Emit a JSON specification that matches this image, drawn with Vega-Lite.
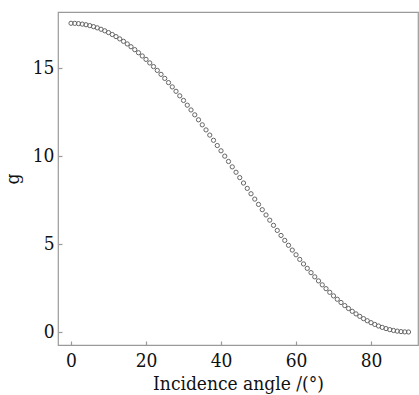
{
  "$schema": "https://vega.github.io/schema/vega-lite/v6.json",
  "width": 360,
  "height": 333,
  "autosize": {"type": "none"},
  "padding": {"left": 58, "top": 12, "right": 1, "bottom": 50},
  "background": "white",
  "config": {
    "view": {"stroke": "#9a9a9a", "strokeWidth": 1.2},
    "axis": {"labelFont": "DejaVu Serif Condensed", "titleFont": "DejaVu Serif Condensed", "labelFontSize": 19, "titleFontSize": 19, "labelColor": "#111", "titleColor": "#111", "titleFontWeight": "normal", "grid": false, "domain": false, "tickColor": "#9a9a9a", "tickSize": -4, "tickWidth": 1.2}
  },
  "data": {"values": [
    {"angle": 0, "g": 17.54}, {"angle": 1, "g": 17.535}, {"angle": 2, "g": 17.519}, {"angle": 3, "g": 17.492}, {"angle": 4, "g": 17.455},
    {"angle": 5, "g": 17.407}, {"angle": 6, "g": 17.348}, {"angle": 7, "g": 17.28}, {"angle": 8, "g": 17.2}, {"angle": 9, "g": 17.111},
    {"angle": 10, "g": 17.011}, {"angle": 11, "g": 16.901}, {"angle": 12, "g": 16.782}, {"angle": 13, "g": 16.652}, {"angle": 14, "g": 16.513},
    {"angle": 15, "g": 16.365}, {"angle": 16, "g": 16.207}, {"angle": 17, "g": 16.041}, {"angle": 18, "g": 15.865}, {"angle": 19, "g": 15.681},
    {"angle": 20, "g": 15.488}, {"angle": 21, "g": 15.287}, {"angle": 22, "g": 15.079}, {"angle": 23, "g": 14.862}, {"angle": 24, "g": 14.638},
    {"angle": 25, "g": 14.407}, {"angle": 26, "g": 14.169}, {"angle": 27, "g": 13.925}, {"angle": 28, "g": 13.674}, {"angle": 29, "g": 13.417},
    {"angle": 30, "g": 13.155}, {"angle": 31, "g": 12.887}, {"angle": 32, "g": 12.615}, {"angle": 33, "g": 12.337}, {"angle": 34, "g": 12.055},
    {"angle": 35, "g": 11.77}, {"angle": 36, "g": 11.48}, {"angle": 37, "g": 11.187}, {"angle": 38, "g": 10.892}, {"angle": 39, "g": 10.593},
    {"angle": 40, "g": 10.293}, {"angle": 41, "g": 9.99}, {"angle": 42, "g": 9.687}, {"angle": 43, "g": 9.382}, {"angle": 44, "g": 9.076},
    {"angle": 45, "g": 8.77}, {"angle": 46, "g": 8.464}, {"angle": 47, "g": 8.158}, {"angle": 48, "g": 7.853}, {"angle": 49, "g": 7.55},
    {"angle": 50, "g": 7.247}, {"angle": 51, "g": 6.947}, {"angle": 52, "g": 6.648}, {"angle": 53, "g": 6.353}, {"angle": 54, "g": 6.06},
    {"angle": 55, "g": 5.77}, {"angle": 56, "g": 5.485}, {"angle": 57, "g": 5.203}, {"angle": 58, "g": 4.925}, {"angle": 59, "g": 4.653},
    {"angle": 60, "g": 4.385}, {"angle": 61, "g": 4.123}, {"angle": 62, "g": 3.866}, {"angle": 63, "g": 3.615}, {"angle": 64, "g": 3.371},
    {"angle": 65, "g": 3.133}, {"angle": 66, "g": 2.902}, {"angle": 67, "g": 2.678}, {"angle": 68, "g": 2.461}, {"angle": 69, "g": 2.253},
    {"angle": 70, "g": 2.052}, {"angle": 71, "g": 1.859}, {"angle": 72, "g": 1.675}, {"angle": 73, "g": 1.499}, {"angle": 74, "g": 1.333},
    {"angle": 75, "g": 1.175}, {"angle": 76, "g": 1.027}, {"angle": 77, "g": 0.888}, {"angle": 78, "g": 0.758}, {"angle": 79, "g": 0.639},
    {"angle": 80, "g": 0.529}, {"angle": 81, "g": 0.429}, {"angle": 82, "g": 0.34}, {"angle": 83, "g": 0.26}, {"angle": 84, "g": 0.192},
    {"angle": 85, "g": 0.133}, {"angle": 86, "g": 0.085}, {"angle": 87, "g": 0.048}, {"angle": 88, "g": 0.021}, {"angle": 89, "g": 0.005},
    {"angle": 90, "g": 0}
  ]},
  "mark": {"type": "point", "shape": "circle", "filled": false, "stroke": "#666", "strokeWidth": 1, "size": 18, "opacity": 1},
  "encoding": {
    "x": {"field": "angle", "type": "quantitative", "scale": {"domain": [-3.47, 92.53], "nice": false, "zero": false},
      "axis": {"values": [0, 20, 40, 60, 80], "title": "Incidence angle /(°)", "labelPadding": 10, "titlePadding": 4}},
    "y": {"field": "g", "type": "quantitative", "scale": {"domain": [-0.74, 18.18], "nice": false, "zero": false},
      "axis": {"values": [0, 5, 10, 15], "title": "g", "labelPadding": 8, "titlePadding": 10}}
  }
}
